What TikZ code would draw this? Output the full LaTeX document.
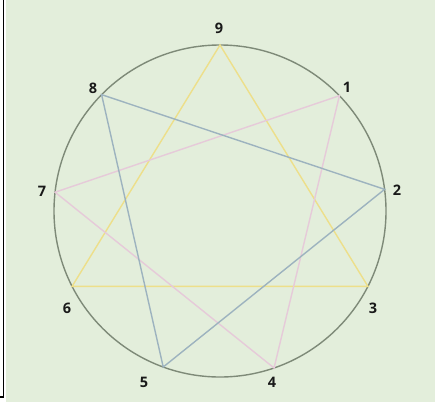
\documentclass[tikz,border=0pt]{standalone}
\usepackage{fontspec}
\setmainfont{Open Sans}
\usetikzlibrary{calc}
\definecolor{bg}{HTML}{E3EEDB}
\definecolor{ring}{HTML}{7E8A78}
\definecolor{yel}{HTML}{EDDF8A}
\definecolor{pnk}{HTML}{E6CAD9}
\definecolor{blu}{HTML}{9DB3BF}
\begin{document}
\begin{tikzpicture}[x=1pt,y=-1pt,
  lbl/.style={font=\bfseries\fontsize{14.5}{14.5}\selectfont, text=black!90, inner sep=0pt},
  yline/.style={draw=yel, line width=1.4pt},
  pline/.style={draw=pnk, line width=1.4pt},
  bline/.style={draw=blu, line width=1.4pt}]
\useasboundingbox (0,0) rectangle (435,405);
\fill[bg] (6,0) rectangle (435,402);
\draw[black, line width=1.6pt] (3.5,0) -- (3.5,397) -- (0,397);
\coordinate (c) at (220,211);
\draw[ring, line width=1.4pt] (c) circle (166);
\foreach \n/\a in {9/90,1/44,2/7.5,3/-27,4/-71,5/-110,6/-153,7/173.5,8/135.5}
  \coordinate (p\n) at ($(c)+(\a:166 and -166)$);
\draw[yline] (p9) -- (p3) -- (p6) -- cycle;
\draw[pline] (p1) -- (p4) -- (p7) -- cycle;
\draw[bline] (p2) -- (p8) -- (p5) -- cycle;
\node[lbl] (l9) at (219,28) {9};
\node[lbl] (l1) at (347,87) {1};
\node[lbl] (l2) at (397,190) {2};
\node[lbl] (l3) at (373,308) {3};
\node[lbl] (l4) at (272,382) {4};
\node[lbl] (l5) at (144,382) {5};
\node[lbl] (l6) at (67,308) {6};
\node[lbl] (l7) at (42,191) {7};
\node[lbl] (l8) at (93,88) {8};
\end{tikzpicture}
\end{document}
